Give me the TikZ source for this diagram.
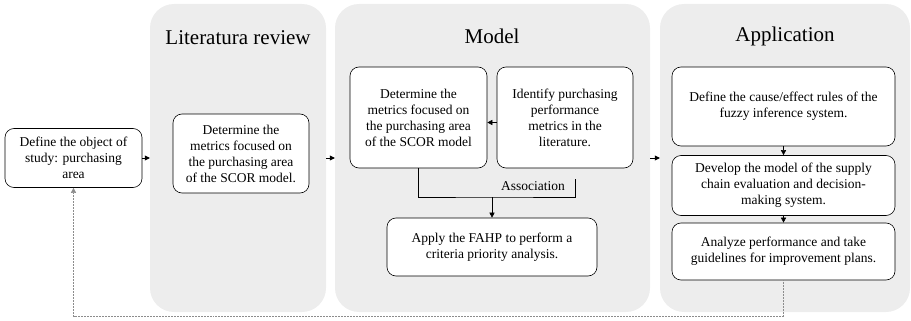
\documentclass[tikz,border=0pt]{standalone}
\usepackage{fontspec}
\setmainfont{Liberation Serif}
\usepackage{tikz}
\usetikzlibrary{arrows.meta}

\begin{document}
\begin{tikzpicture}[x=1pt,y=-1pt,
  panel/.style={rectangle,rounded corners=24pt,fill=black!7,draw=none},
  stepbox/.style={rectangle,rounded corners=9pt,draw=black,fill=white,line width=0.6pt,align=center,
    font=\fontsize{13.5}{16}\selectfont,inner sep=2pt},
  paneltitle/.style={font=\fontsize{21}{24}\selectfont},
  arr/.style={-{Triangle[length=5pt,width=5pt]},line width=0.5pt}]
\useasboundingbox (0,0) rectangle (911,321);
% Panels
\node at (238,158) [panel,minimum width=176pt,minimum height=308pt] (Panel1) {};
\node at (492.5,158) [panel,minimum width=315pt,minimum height=308pt] (Panel2) {};
\node at (785,158) [panel,minimum width=250pt,minimum height=308pt] (Panel3) {};
% Panel Titles
\node at (238,38) [paneltitle] (Title1) {Literatura review};
\node at (492,36) [paneltitle] (Title2) {Model};
\node at (785,36) [paneltitle] (Title3) {Application};
% Boxes
\node at (73.5,158) [stepbox,minimum width=137pt,minimum height=59pt] (Box1) {Define the object of\\study: purchasing\\area};
\node at (241,153.5) [stepbox,minimum width=136pt,minimum height=79pt] (Box2) {Determine the\\metrics focused on\\the purchasing area\\of the SCOR model.};
\node at (418.5,117.5) [stepbox,minimum width=137pt,minimum height=101pt] (Box3) {Determine the\\metrics focused on\\the purchasing area\\of the SCOR model};
\node at (565,117.5) [stepbox,minimum width=136pt,minimum height=101pt] (Box4) {Identify purchasing\\performance\\metrics in the\\literature.};
\node at (492,247) [stepbox,minimum width=210pt,minimum height=58pt] (Box5) {Apply the FAHP to perform a\\criteria priority analysis.};
\node at (783.5,106.5) [stepbox,minimum width=223pt,minimum height=79pt] (Box6) {Define the cause/effect rules of the\\fuzzy inference system.};
\node at (783.5,185.5) [stepbox,minimum width=223pt,minimum height=60pt] (Box7) {Develop the model of the supply\\chain evaluation and decision-\\making system.};
\node at (783.5,251.5) [stepbox,minimum width=223pt,minimum height=57pt] (Box8) {Analyze performance and take\\guidelines for improvement plans.};
% Association
\coordinate (Assoc) at (492,197);
\coordinate (AssocR) at (575,179);
\draw[line width=0.5pt] (Box3.south) |- (Assoc) -| (AssocR);
\node at (533,186) [font=\fontsize{13.5}{16}\selectfont] (AssocLabel) {Association};
% Node Connections
\draw[arr] (Box1.east) -- (Panel1.west);
\draw[arr] (Panel1.east) -- (Panel2.west);
\draw[arr] (Panel2.east) -- (Panel3.west);
\draw[arr] ([yshift=-5pt]Box4.west) -- ([yshift=-5pt]Box3.east);
\draw[arr] (Assoc) -- (Box5.north);
\draw[arr] (Box6.south) -- (Box7.north);
\draw[arr] (Box7.south) -- (Box8.north);
% Feedback
\draw[arr,densely dotted,black!45] (Box8.south) -- ++(0,36) -| (Box1.south);
\end{tikzpicture}
\end{document}
